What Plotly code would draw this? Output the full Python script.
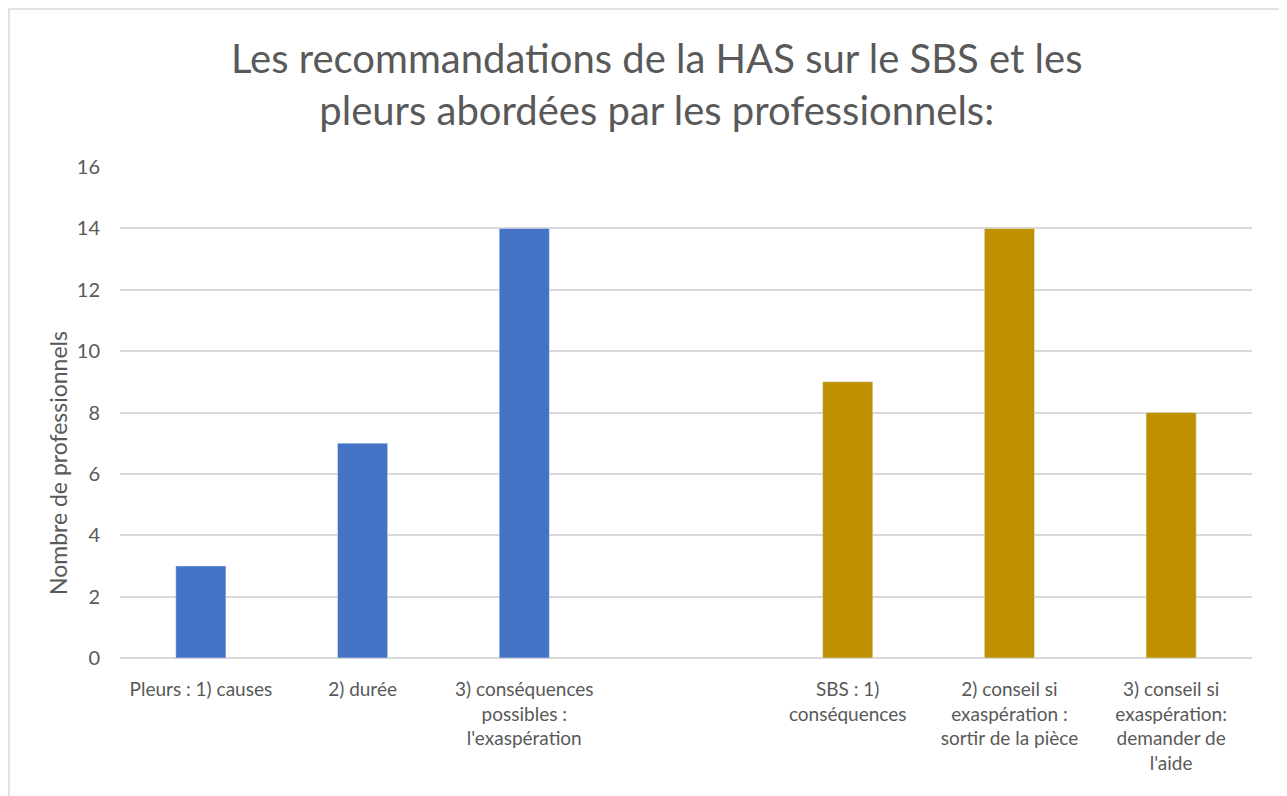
import plotly.graph_objects as go

categories = ["Pleurs : 1) causes", "2) durée", "3) conséquences possibles : l'exaspération", " ",
              "SBS : 1) conséquences", "2) conseil si exaspération : sortir de la pièce",
              "3) conseil si exaspération: demander de l'aide"]
tick_labels = ["Pleurs : 1) causes", "2) durée", "3) conséquences<br>possibles :<br>l'exaspération", "",
               "SBS : 1)<br>conséquences", "2) conseil si<br>exaspération :<br>sortir de la pièce",
               "3) conseil si<br>exaspération:<br>demander de<br>l'aide"]
pleurs_values = [3, 7, 14, None, None, None, None]
sbs_values = [None, None, None, None, 9, 14, 8]

FONT = "Lato, 'Open Sans', sans-serif"
W, H = 1279, 788  # page body has an 8px margin
L, R, T, B = 112, 35, 159, 138
pw, ph = W - L - R, H - T - B

fig = go.Figure()
fig.add_trace(go.Bar(x=categories, y=pleurs_values, marker_color="#4472C4", width=0.31,
                     name="Pleurs", showlegend=False))
fig.add_trace(go.Bar(x=categories, y=sbs_values, marker_color="#BF9000", width=0.31,
                     name="SBS", showlegend=False))

fig.update_layout(
    width=W, height=H, barmode="overlay",
    margin=dict(l=L, r=R, t=T, b=B, autoexpand=False),
    paper_bgcolor="white", plot_bgcolor="white",
    font=dict(family=FONT, color="#595959", size=18),
    xaxis=dict(type="category", categoryorder="array", categoryarray=categories,
               tickvals=categories, ticktext=tick_labels, showgrid=False, zeroline=False,
               showline=False, ticks="", ticklabelstandoff=18, tickfont=dict(size=19, color="#595959"),
               range=[-0.5, 6.5], automargin=False),
    yaxis=dict(range=[0, 16], dtick=2, showgrid=True, gridcolor="#D9D9D9", gridwidth=1.5,
               zeroline=True, zerolinecolor="#D9D9D9", zerolinewidth=1.5, showline=False,
               ticks="", ticklabelstandoff=19, tickfont=dict(size=20, color="#595959"),
               automargin=False),
)

fig.add_annotation(text="Les recommandations de la HAS sur le SBS et les<br>pleurs abordées par les professionnels:",
                   xref="paper", yref="paper", x=(656 - 8 - L) / pw, y=1 + (T - 24) / ph,
                   xanchor="center", yanchor="top", showarrow=False, align="center",
                   font=dict(family=FONT, size=40, color="#595959"))

# y-axis title (placed like the original, below the plot's middle)
fig.add_annotation(text="Nombre de professionnels", textangle=-90,
                   xref="paper", yref="paper", x=(58 - 8 - L) / pw, y=1 - (463 - 8 - T) / ph,
                   xanchor="center", yanchor="middle", showarrow=False,
                   font=dict(family=FONT, size=23, color="#595959"))

# outer chart border
fig.add_shape(type="rect", xref="paper", yref="paper",
              x0=(1 - L) / pw, x1=(1272 - L) / pw,
              y0=-(B + 20) / ph, y1=1 + (T - 1) / ph,
              line=dict(color="#D9D9D9", width=1.5), fillcolor="rgba(0,0,0,0)", layer="below")

fig.write_html("out.html")
